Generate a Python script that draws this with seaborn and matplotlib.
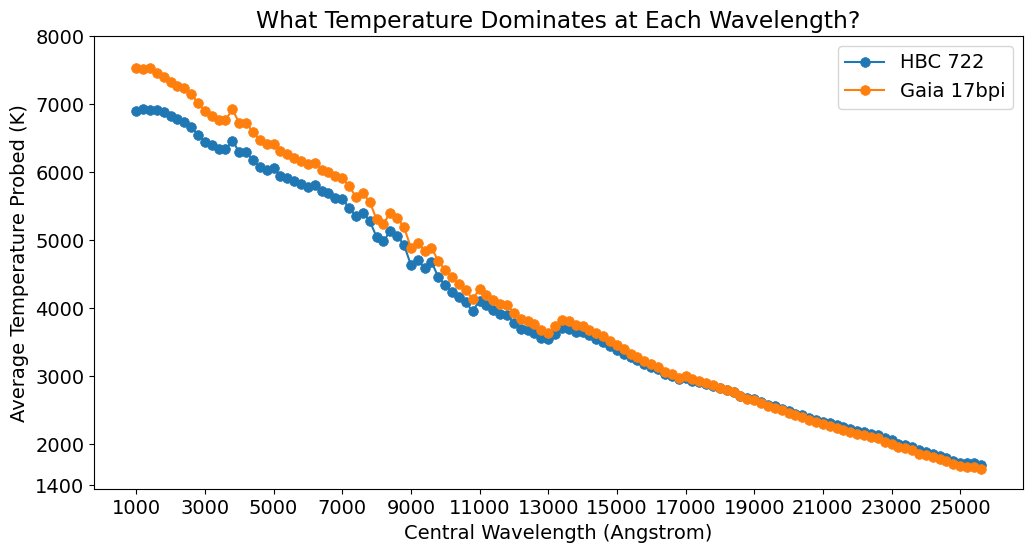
import numpy as np
import pandas as pd
import matplotlib
matplotlib.use("Agg")
import matplotlib.pyplot as plt
import seaborn as sns

wavelength = list(range(1000, 25601, 200))

hbc722 = [
    6902, 6922, 6917, 6917, 6888, 6829, 6785, 6741, 6663, 6551, 6449, 6395, 6341, 6332, 6463, 6292, 6292, 6175, 6068, 6029, 6053, 5941, 5912, 5873, 5830,
    5780, 5805, 5722, 5688, 5614, 5600, 5478, 5351, 5405, 5283, 5048, 4980, 5136, 5063, 4931, 4634, 4707, 4590, 4683, 4453, 4346, 4234, 4161, 4083, 3956,
    4112, 4048, 3975, 3907, 3892, 3785, 3697, 3683, 3639, 3561, 3541, 3624, 3712, 3697, 3644, 3644, 3600, 3546, 3502, 3439, 3390, 3331, 3282, 3234, 3175,
    3130, 3100, 3030, 3000, 2960, 2970, 2930, 2920, 2890, 2860, 2830, 2800, 2770, 2715, 2680, 2665, 2620, 2580, 2555, 2520, 2485, 2450, 2425, 2390, 2360,
    2330, 2310, 2280, 2250, 2225, 2200, 2180, 2150, 2130, 2090, 2060, 2010, 1990, 1965, 1920, 1890, 1860, 1830, 1800, 1760, 1730, 1720, 1720, 1700,
]

gaia17bpi = [
    7525, 7515, 7530, 7460, 7390, 7330, 7270, 7240, 7150, 7010, 6895, 6820, 6760, 6765, 6920, 6725, 6720, 6590, 6465, 6410, 6410, 6305, 6270, 6210, 6160,
    6125, 6140, 6030, 6005, 5940, 5910, 5795, 5635, 5685, 5565, 5305, 5235, 5405, 5320, 5195, 4885, 4950, 4845, 4890, 4690, 4560, 4455, 4355, 4265, 4130,
    4283, 4200, 4122, 4063, 4048, 3926, 3844, 3805, 3770, 3673, 3639, 3731, 3819, 3805, 3756, 3736, 3683, 3634, 3595, 3517, 3453, 3395, 3331, 3285, 3228,
    3175, 3136, 3063, 3029, 2975, 3000, 2951, 2931, 2902, 2868, 2829, 2795, 2770, 2707, 2668, 2648, 2600, 2561, 2536, 2502, 2463, 2424, 2395, 2360, 2331,
    2297, 2273, 2243, 2209, 2185, 2156, 2136, 2112, 2087, 2038, 2009, 1965, 1941, 1917, 1863, 1843, 1814, 1785, 1760, 1712, 1682, 1668, 1668, 1639,
]

series_names = ["HBC 722", "Gaia 17bpi"]
xticks = list(range(1000, 25001, 2000))
yticks = [1400, 2000, 3000, 4000, 5000, 6000, 7000, 8000]

df = pd.DataFrame({
    "wavelength": wavelength * 2,
    "temp": hbc722 + gaia17bpi,
    "star": [series_names[0]] * len(wavelength) + [series_names[1]] * len(wavelength),
})

plt.rcParams["font.size"] = 14

fig = plt.figure(figsize=(10.33, 5.52), dpi=100)
ax = fig.add_axes([94 / 1033, 1 - 489.3 / 552, (1023 - 94) / 1033, (489.3 - 36) / 552])

colors = ["#1f77b4", "#ff7f0e"]
for name, c in zip(series_names, colors):
    sub = df[df["star"] == name]
    sns.lineplot(data=sub, x="wavelength", y="temp", ax=ax, color=c, marker="o",
                 markersize=7, markeredgecolor=c, markeredgewidth=0.5, label=name,
                 linewidth=1.5)

ax.set_xticks(xticks)
ax.set_yticks(yticks)
ax.set_ylim(1337, 8000)
ax.set_xlim(1000 - 0.05 * 24600, 25600 + 0.05 * 24600)
ax.tick_params(labelsize=14)
ax.set_xlabel("Central Wavelength (Angstrom)", fontsize=14)
ax.set_ylabel("Average Temperature Probed (K)", fontsize=14)
ax.set_title("What Temperature Dominates at Each Wavelength?", fontsize=16.8)
ax.legend(loc="upper right", fontsize=14)

fig.savefig("out.png", dpi=100)
